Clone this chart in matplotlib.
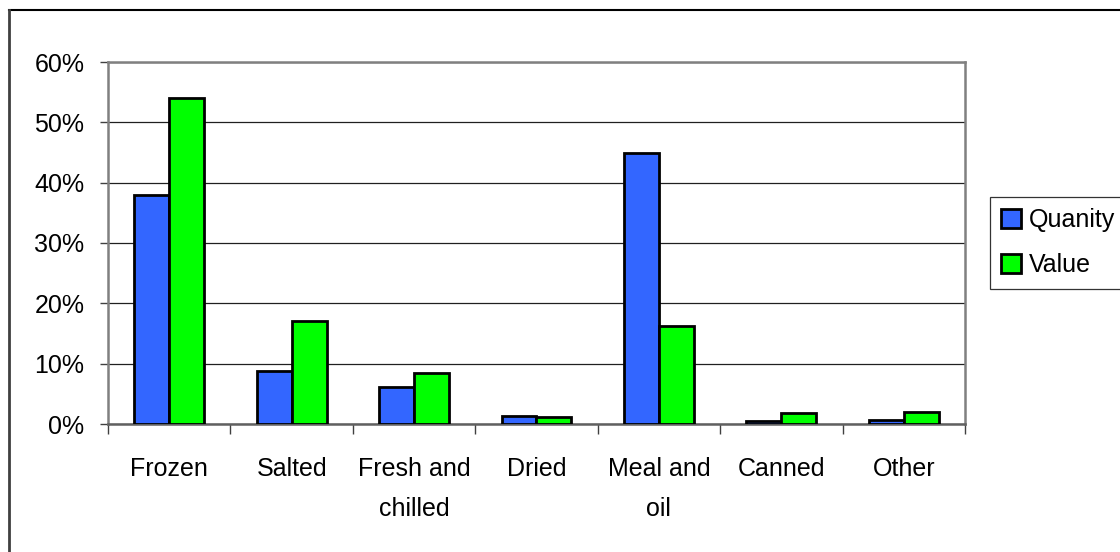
import matplotlib
matplotlib.use('Agg')
import matplotlib.pyplot as plt
from matplotlib.lines import Line2D
import numpy as np

categories = ['Frozen', 'Salted', 'Fresh and\nchilled', 'Dried', 'Meal and\noil', 'Canned', 'Other']
quantity = [38.0, 8.8, 6.1, 1.3, 45.0, 0.5, 0.6]
value = [54.0, 17.0, 8.4, 1.1, 16.2, 1.9, 2.0]
series_names = ['Quanity', 'Value']
y_ticks = [0, 10, 20, 30, 40, 50, 60]

plt.rcParams['font.family'] = ['Liberation Sans Narrow', 'Liberation Sans', 'DejaVu Sans']
plt.rcParams['font.size'] = 18

W, H = 1120, 552
fig = plt.figure(figsize=(W / 100, H / 100), dpi=100)
ax = fig.add_axes([108 / W, 1 - 424 / H, (965 - 108) / W, (424 - 62) / H])

x = np.arange(len(categories))
w = 1 / 3.5
ax.bar(x - w / 2, quantity, w, color='#3366ff', edgecolor='black', linewidth=2.0,
       label=series_names[0], zorder=3)
ax.bar(x + w / 2, value, w, color='#00ff00', edgecolor='black', linewidth=2.0,
       label=series_names[1], zorder=3)

ax.set_xlim(-0.5, len(categories) - 0.5)
ax.set_ylim(0, 60)

# y axis with percent labels and horizontal gridlines
ax.set_yticks(y_ticks)
ax.set_yticklabels(['%d%%' % v for v in y_ticks])
ax.yaxis.grid(True, color='#202020', linewidth=0.9, zorder=0)
ax.tick_params(axis='y', direction='out', length=6, width=1, color='#404040', pad=11)

# category boundaries carry the ticks, labels sit in the middle
ax.set_xticks(np.arange(-0.5, len(categories)), labels=[''] * (len(categories) + 1))
ax.set_xticks(x, labels=categories, minor=True)
ax.tick_params(axis='x', which='major', direction='out', length=7, width=1, color='#404040')
ax.tick_params(axis='x', which='minor', length=0, pad=24)
for lbl in ax.get_xticklabels(minor=True):
    lbl.set_linespacing(1.8)
    lbl.set_verticalalignment('top')

for side in ['left', 'right', 'top', 'bottom']:
    ax.spines[side].set_color('#808080')
    ax.spines[side].set_linewidth(1.8)
ax.spines['bottom'].set_color('#606060')

leg = fig.legend(loc='upper left', bbox_to_anchor=(990 / W, 1 - 197 / H),
                 frameon=True, fancybox=False, edgecolor='black', borderpad=0.45,
                 handlelength=0.8, handleheight=0.8, handletextpad=0.3,
                 labelspacing=0.85, borderaxespad=0)
leg.get_frame().set_linewidth(0.9)

# outer chart border (top and left edges)
fig.add_artist(Line2D([9 / W, 1], [1 - 10 / H, 1 - 10 / H], color='black', linewidth=1.5))
fig.add_artist(Line2D([9 / W, 9 / W], [0, 1 - 10 / H], color='#404040', linewidth=2))

fig.savefig('out.png', dpi=100)
